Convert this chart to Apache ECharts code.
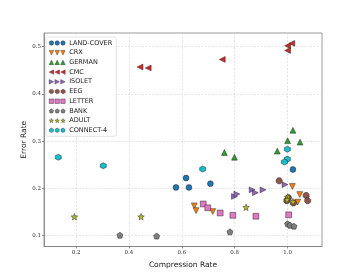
<!DOCTYPE html>
<html><head><meta charset="utf-8">
<script src="https://cdn.jsdelivr.net/npm/echarts@6/dist/echarts.min.js"></script>
<style>html,body{margin:0;padding:0;background:#fff}#c{width:357px;height:278px}</style>
</head><body><div id="c"></div>
<script>
const seriesNames = ['LAND-COVER','CRX','GERMAN','CMC','ISOLET','EEG','LETTER','BANK','ADULT','CONNECT-4'];
const colors = ['#1f77b4','#ff7f0e','#2ca02c','#d62728','#9467bd','#8c564b','#e377c2','#7f7f7f','#bcbd22','#17becf'];
const landCover = [[0.578,0.202],[0.616,0.222],[0.627,0.202],[0.708,0.210],[1.020,0.240]];
const crx = [[0.647,0.163],[0.654,0.153],[0.717,0.151],[1.018,0.204],[1.046,0.187],[1.038,0.171]];
const german = [[0.761,0.276],[0.799,0.266],[0.961,0.279],[1.000,0.301],[1.047,0.298],[1.020,0.323]];
const cmc = [[0.442,0.457],[0.473,0.455],[0.753,0.473],[1.016,0.507],[1.000,0.502],[1.000,0.492]];
const isolet = [[0.799,0.183],[0.808,0.188],[0.866,0.197],[0.878,0.191],[0.907,0.197],[0.990,0.208]];
const eeg = [[0.968,0.216],[0.997,0.174],[1.003,0.180],[1.022,0.169],[1.070,0.185],[1.076,0.174]];
const letter = [[0.681,0.167],[0.698,0.159],[0.745,0.148],[0.793,0.143],[0.880,0.141],[1.004,0.144]];
const bank = [[0.366,0.101],[0.505,0.099],[0.782,0.108],[1.000,0.125],[1.009,0.122],[1.024,0.120]];
const adult = [[0.194,0.140],[0.446,0.140],[0.843,0.160],[1.000,0.182],[0.998,0.176],[1.020,0.172]];
const connect4 = [[0.133,0.266],[0.303,0.248],[0.679,0.241],[0.999,0.283],[0.999,0.262],[0.988,0.256]];
const xTicks = [0.2,0.4,0.6,0.8,1.0];
const yTicks = [0.1,0.2,0.3,0.4,0.5];
const allData = [landCover,crx,german,cmc,isolet,eeg,letter,bank,adult,connect4];

function poly(pts,o){return 'M'+pts.map(p=>(p[0]+o).toFixed(2)+' '+p[1].toFixed(2)).join(' L')+' Z';}
function regular(n,rot,o){const pts=[];for(let i=0;i<n;i++){const a=rot+i*2*Math.PI/n;pts.push([5+5*Math.cos(a),5+5*Math.sin(a)]);}return poly(pts,o);}
function star(o){const pts=[];for(let i=0;i<10;i++){const r=i%2?2.1:5;const a=-Math.PI/2+i*Math.PI/5;pts.push([5+r*Math.cos(a),5.4+r*Math.sin(a)]);}return poly(pts,o);}
const shapeFns = [
  o=>'M'+(o+5)+' 0 A5 5 0 1 1 '+(o+5)+' 10 A5 5 0 1 1 '+(o+5)+' 0 Z',
  o=>poly([[0,0],[10,0],[5,10]],o),
  o=>poly([[5,0],[10,10],[0,10]],o),
  o=>poly([[0,5],[10,0],[10,10]],o),
  o=>poly([[0,0],[10,5],[0,10]],o),
  o=>regular(8,Math.PI/8,o),
  o=>poly([[0,0],[10,0],[10,10],[0,10]],o),
  o=>regular(5,-Math.PI/2,o),
  o=>star(o),
  o=>regular(6,-Math.PI/2,o)
];
const sizes = [5.8,5.8,5.8,5.8,5.8,6,5.8,6,6.5,6];
const series = seriesNames.map((n,i)=>({
  name:n, type:'scatter', data:allData[i],
  symbol:'path://'+shapeFns[i](0), symbolSize:sizes[i],
  itemStyle:{color:colors[i],borderColor:'#222',borderWidth:0.5,opacity:1},
  z: 2+i
}));
const legendData = seriesNames.map((n,i)=>({name:n, icon:'path://'+shapeFns[i](0)+' '+shapeFns[i](12.8)+' '+shapeFns[i](25.6)}));

const chart = echarts.init(document.getElementById('c'),null,{renderer:'canvas'});
const tickFont = {fontFamily:'DejaVu Serif',fontSize:5.5,color:'#333'};
chart.setOption({
  animation:false,
  backgroundColor:'#fff',
  grid:{left:44,right:35,top:33,bottom:31.5,show:true,borderColor:'#808080',borderWidth:0.8,containLabel:false},
  legend:{
    data:legendData, orient:'vertical', left:46, top:37,
    itemWidth:16, itemHeight:4.5, itemGap:2.7,
    textStyle:{fontFamily:'DejaVu Sans',fontSize:6.5,lineHeight:7,color:'#222',padding:[0,0,0,-1]},
    backgroundColor:'#fff', borderColor:'#d0d0d0', borderWidth:0.6, borderRadius:2,
    padding:[2.5,4,2.5,3],
    itemStyle:{borderWidth:0.4}
  },
  xAxis:{
    type:'value', min:0.079, max:1.13,
    name:'Compression Rate', nameLocation:'middle', nameGap:15, nameMoveOverlap:false,
    nameTextStyle:{fontFamily:'DejaVu Sans',fontSize:7.5,color:'#222'},
    axisLine:{show:true,lineStyle:{color:'#808080',width:0.8}},
    axisTick:{show:true,length:2,customValues:xTicks,lineStyle:{color:'#555',width:0.6}},
    axisLabel:{customValues:xTicks,margin:3,formatter:v=>v.toFixed(1),...tickFont},
    splitLine:{show:true,lineStyle:{color:'#d4d4d4',type:[2,1.5],width:0.6}}
  },
  yAxis:{
    type:'value', min:0.077, max:0.529,
    name:'Error Rate', nameLocation:'middle', nameGap:16, nameMoveOverlap:false,
    nameTextStyle:{fontFamily:'DejaVu Sans',fontSize:7.5,color:'#222'},
    axisLine:{show:true,lineStyle:{color:'#808080',width:0.8}},
    axisTick:{show:true,length:2,customValues:yTicks,lineStyle:{color:'#555',width:0.6}},
    axisLabel:{customValues:yTicks,margin:3,formatter:v=>v.toFixed(1),...tickFont},
    splitLine:{show:true,lineStyle:{color:'#d4d4d4',type:[2,1.5],width:0.6}}
  },
  series:series
});
</script></body></html>
